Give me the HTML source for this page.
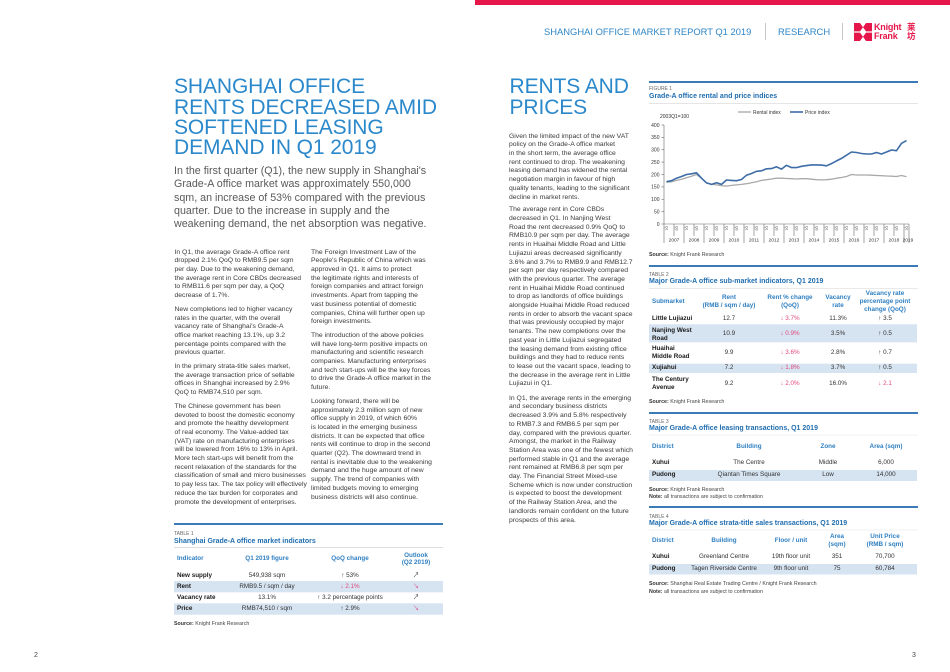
<!DOCTYPE html>
<html><head><meta charset="utf-8">
<style>
*{margin:0;padding:0;box-sizing:border-box}
body{width:950px;height:672px;position:relative;overflow:hidden;background:#fff;font-family:"Liberation Sans",Arial,"Noto Sans CJK SC",sans-serif;}
.a{position:absolute;white-space:nowrap}
.hd{position:absolute;white-space:nowrap;font-size:21px;line-height:20.3px;color:#2a88cb;letter-spacing:-0.1px}
.intro{position:absolute;white-space:nowrap;font-size:10.7px;line-height:13.33px;color:#5a5a5a}
.body{position:absolute;white-space:nowrap;font-size:6.8px;line-height:8.7px;color:#3a3a3a}
.body p{margin-bottom:5px}
.tc{position:absolute;white-space:nowrap;text-align:center;width:200px;margin-left:-100px;font-size:6.3px;line-height:7.7px;color:#333}
.tl{position:absolute;white-space:nowrap;font-size:6.3px;line-height:7.7px;font-weight:bold;color:#1a1a1a}
.th{color:#2f7fc1;font-weight:bold}
.red{color:#e2487c}
.cap{position:absolute;white-space:nowrap;font-size:5px;line-height:6px;color:#666}
.ttl{position:absolute;white-space:nowrap;font-size:7px;line-height:8px;font-weight:bold;color:#1f6db0}
.src{position:absolute;white-space:nowrap;font-size:5.3px;line-height:6px;color:#444}
.src b{color:#333}
</style></head><body>

<svg width="950" height="672" viewBox="0 0 950 672" style="position:absolute;left:0;top:0" xmlns="http://www.w3.org/2000/svg">
  <!-- top red bar -->
  <rect x="475" y="0" width="475" height="5" fill="#e5174a"/>
  <!-- header separators -->
  <line x1="765.5" y1="23" x2="765.5" y2="40" stroke="#c8c8c8" stroke-width="1"/>
  <line x1="842.5" y1="23" x2="842.5" y2="40" stroke="#c8c8c8" stroke-width="1"/>
  <!-- logo symbol -->
  <g fill="#e5174a" transform="translate(854,23)">
    <polygon points="0,0 6,0 9,4.2 6,8.4 0,8.4"/>
    <polygon points="18,0 12,0 9,4.2 12,8.4 18,8.4"/>
    <polygon points="0,9.6 6,9.6 9,13.8 6,18 0,18"/>
    <polygon points="18,9.6 12,9.6 9,13.8 12,18 18,18"/>
  </g>

  <!-- section top lines -->
  <rect x="174" y="523" width="269" height="2" fill="#3b7cb8"/>
  <rect x="649" y="81" width="269" height="2" fill="#3b7cb8"/>
  <rect x="649" y="265" width="269" height="2" fill="#3b7cb8"/>
  <rect x="649" y="412" width="269" height="2" fill="#3b7cb8"/>
  <rect x="649" y="506" width="269" height="2" fill="#3b7cb8"/>
  <!-- light rules under titles -->
  <line x1="649" y1="103.5" x2="918" y2="103.5" stroke="#dcdcdc" stroke-width="0.7"/>
  <line x1="174" y1="547.5" x2="443" y2="547.5" stroke="#d4d4d4" stroke-width="0.7"/>
  <line x1="649" y1="288.5" x2="918" y2="288.5" stroke="#e2e2e2" stroke-width="0.7"/>
  <line x1="649" y1="435" x2="918" y2="435" stroke="#e6e6e6" stroke-width="0.6"/>
  <line x1="649" y1="530" x2="918" y2="530" stroke="#e6e6e6" stroke-width="0.6"/>

  <!-- table bands -->
  <g fill="#d6e3f1">
    <rect x="174" y="581" width="269" height="11.3"/>
    <rect x="174" y="603.3" width="269" height="11.4"/>
    <rect x="649" y="324.3" width="268" height="18"/>
    <rect x="649" y="363.7" width="268" height="9.3"/>
    <rect x="649" y="470" width="268" height="11"/>
    <rect x="649" y="564" width="268" height="10.5"/>
  </g>

  <!-- chart axes -->
  <g stroke="#666" stroke-width="0.6" fill="none">
    <line x1="664" y1="125" x2="664" y2="224"/>
    <line x1="664" y1="224" x2="909" y2="224"/>
    <line x1="661.5" y1="125" x2="664" y2="125"/>
    <line x1="661.5" y1="137.4" x2="664" y2="137.4"/>
    <line x1="661.5" y1="149.75" x2="664" y2="149.75"/>
    <line x1="661.5" y1="162.1" x2="664" y2="162.1"/>
    <line x1="661.5" y1="174.5" x2="664" y2="174.5"/>
    <line x1="661.5" y1="186.9" x2="664" y2="186.9"/>
    <line x1="661.5" y1="199.25" x2="664" y2="199.25"/>
    <line x1="661.5" y1="211.6" x2="664" y2="211.6"/>
    <line x1="661.5" y1="224" x2="664" y2="224"/>
    <!-- year separators -->
    <line x1="664" y1="224" x2="664" y2="243"/>
    <line x1="684" y1="224" x2="684" y2="243"/>
    <line x1="704" y1="224" x2="704" y2="243"/>
    <line x1="724" y1="224" x2="724" y2="243"/>
    <line x1="744" y1="224" x2="744" y2="243"/>
    <line x1="764" y1="224" x2="764" y2="243"/>
    <line x1="784" y1="224" x2="784" y2="243"/>
    <line x1="804" y1="224" x2="804" y2="243"/>
    <line x1="824" y1="224" x2="824" y2="243"/>
    <line x1="844" y1="224" x2="844" y2="243"/>
    <line x1="864" y1="224" x2="864" y2="243"/>
    <line x1="884" y1="224" x2="884" y2="243"/>
    <line x1="904" y1="224" x2="904" y2="243"/>
    <line x1="909" y1="224" x2="909" y2="243"/>
    <!-- half-year ticks -->
    <line x1="674" y1="224" x2="674" y2="236"/>
    <line x1="694" y1="224" x2="694" y2="236"/>
    <line x1="714" y1="224" x2="714" y2="236"/>
    <line x1="734" y1="224" x2="734" y2="236"/>
    <line x1="754" y1="224" x2="754" y2="236"/>
    <line x1="774" y1="224" x2="774" y2="236"/>
    <line x1="794" y1="224" x2="794" y2="236"/>
    <line x1="814" y1="224" x2="814" y2="236"/>
    <line x1="834" y1="224" x2="834" y2="236"/>
    <line x1="854" y1="224" x2="854" y2="236"/>
    <line x1="874" y1="224" x2="874" y2="236"/>
    <line x1="894" y1="224" x2="894" y2="236"/>
  </g>

  <!-- y labels -->
  <g font-family="Liberation Sans, Arial, sans-serif" font-size="5" fill="#333" text-anchor="end">
    <text x="659.5" y="126.8">400</text>
    <text x="659.5" y="139.2">350</text>
    <text x="659.5" y="151.5">300</text>
    <text x="659.5" y="163.9">250</text>
    <text x="659.5" y="176.3">200</text>
    <text x="659.5" y="188.7">150</text>
    <text x="659.5" y="201">100</text>
    <text x="659.5" y="213.4">50</text>
    <text x="659.5" y="225.8">0</text>
  </g>
  <text x="660" y="117.8" font-family="Liberation Sans, Arial, sans-serif" font-size="5" fill="#333">2003Q1=100</text>

  <!-- quarter labels (rotated) -->
  <g font-family="Liberation Sans, Arial, sans-serif" font-size="3.4" fill="#555">
    <text transform="translate(665.3,226) rotate(90)">Q1</text><text transform="translate(675.3,226) rotate(90)">Q3</text>
    <text transform="translate(685.3,226) rotate(90)">Q1</text><text transform="translate(695.3,226) rotate(90)">Q3</text>
    <text transform="translate(705.3,226) rotate(90)">Q1</text><text transform="translate(715.3,226) rotate(90)">Q3</text>
    <text transform="translate(725.3,226) rotate(90)">Q1</text><text transform="translate(735.3,226) rotate(90)">Q3</text>
    <text transform="translate(745.3,226) rotate(90)">Q1</text><text transform="translate(755.3,226) rotate(90)">Q3</text>
    <text transform="translate(765.3,226) rotate(90)">Q1</text><text transform="translate(775.3,226) rotate(90)">Q3</text>
    <text transform="translate(785.3,226) rotate(90)">Q1</text><text transform="translate(795.3,226) rotate(90)">Q3</text>
    <text transform="translate(805.3,226) rotate(90)">Q1</text><text transform="translate(815.3,226) rotate(90)">Q3</text>
    <text transform="translate(825.3,226) rotate(90)">Q1</text><text transform="translate(835.3,226) rotate(90)">Q3</text>
    <text transform="translate(845.3,226) rotate(90)">Q1</text><text transform="translate(855.3,226) rotate(90)">Q3</text>
    <text transform="translate(865.3,226) rotate(90)">Q1</text><text transform="translate(875.3,226) rotate(90)">Q3</text>
    <text transform="translate(885.3,226) rotate(90)">Q1</text><text transform="translate(895.3,226) rotate(90)">Q3</text>
    <text transform="translate(905.3,226) rotate(90)">Q1</text>
  </g>
  <!-- year labels -->
  <g font-family="Liberation Sans, Arial, sans-serif" font-size="4.8" fill="#333" text-anchor="middle">
    <text x="674" y="241.7">2007</text>
    <text x="694" y="241.7">2008</text>
    <text x="714" y="241.7">2009</text>
    <text x="734" y="241.7">2010</text>
    <text x="754" y="241.7">2011</text>
    <text x="774" y="241.7">2012</text>
    <text x="794" y="241.7">2013</text>
    <text x="814" y="241.7">2014</text>
    <text x="834" y="241.7">2015</text>
    <text x="854" y="241.7">2016</text>
    <text x="874" y="241.7">2017</text>
    <text x="894" y="241.7">2018</text>
    <text x="908" y="241.7">2019</text>
  </g>

  <!-- legend -->
  <line x1="738" y1="112" x2="751" y2="112" stroke="#a9a9a9" stroke-width="1.3"/>
  <text x="753" y="113.8" font-family="Liberation Sans, Arial, sans-serif" font-size="5" fill="#333">Rental index</text>
  <line x1="790" y1="112" x2="803" y2="112" stroke="#3d6ca6" stroke-width="1.6"/>
  <text x="805" y="113.8" font-family="Liberation Sans, Arial, sans-serif" font-size="5" fill="#333">Price index</text>

  <!-- series -->
  <polyline fill="none" stroke="#a9a9a9" stroke-width="1.3" stroke-linejoin="round" points="666.5,182.4 671.5,181.7 676.5,180.4 681.5,179.2 686.5,177.7 691.5,176.2 696.5,174.5 701.5,178.2 706.5,182.7 711.5,184.4 716.5,184.9 721.5,185.6 726.5,186.1 731.5,185.4 736.5,184.9 741.5,184.4 746.5,183.7 751.5,182.7 756.5,181.7 761.5,180.4 766.5,179.7 771.5,179.0 776.5,178.2 781.5,178.2 786.5,178.5 791.5,178.7 796.5,179.0 801.5,178.7 806.5,178.7 811.5,179.2 816.5,179.7 821.5,179.9 826.5,179.7 831.5,179.2 836.5,178.2 841.5,177.5 846.5,176.5 851.5,174.5 856.5,175.0 861.5,175.0 866.5,175.0 871.5,175.2 876.5,175.5 881.5,175.7 886.5,176.0 891.5,176.2 896.5,176.5 901.5,175.5 906.5,176.7"/>
  <polyline fill="none" stroke="#3d6ca6" stroke-width="1.6" stroke-linejoin="round" points="666.5,181.7 671.5,180.7 676.5,178.2 681.5,176.5 686.5,174.5 691.5,173.8 696.5,172.8 701.5,178.2 706.5,182.9 711.5,184.4 716.5,182.7 721.5,184.4 726.5,180.0 731.5,180.4 736.5,180.7 741.5,179.5 746.5,175.2 751.5,173.5 756.5,171.3 761.5,170.8 766.5,168.8 771.5,168.6 776.5,166.8 781.5,169.1 786.5,165.3 791.5,167.6 796.5,167.6 801.5,166.3 806.5,165.6 811.5,164.9 816.5,164.9 821.5,165.1 826.5,165.8 831.5,163.6 836.5,160.9 841.5,158.4 846.5,155.2 851.5,152.0 856.5,152.5 861.5,153.5 866.5,154.0 871.5,154.0 876.5,152.5 881.5,154.0 886.5,152.0 891.5,150.0 896.5,150.7 901.5,143.3 906.5,140.6"/>
</svg>

<!-- Header -->
<div class="a" style="left:544px;top:26px;font-size:9.4px;line-height:12px;color:#2f86c6">SHANGHAI OFFICE MARKET REPORT Q1 2019</div>
<div class="a" style="left:778px;top:26px;font-size:9.4px;line-height:12px;color:#2f86c6">RESEARCH</div>
<div class="a" style="left:874px;top:22.5px;font-size:9px;line-height:9px;font-weight:bold;color:#e5174a;letter-spacing:-0.2px">Knight<br>Frank</div>
<div class="a" style="left:907px;top:22.5px;font-size:8.5px;line-height:9px;font-weight:bold;color:#e5174a;font-family:'Noto Sans CJK SC','WenQuanYi Zen Hei',sans-serif">莱<br>坊</div>

<!-- Left page heading -->
<div class="hd" style="left:174px;top:77.4px">SHANGHAI OFFICE<br>RENTS DECREASED AMID<br>SOFTENED LEASING<br>DEMAND IN Q1 2019</div>
<div class="intro" style="left:174px;top:165px">In the first quarter (Q1), the new supply in Shanghai's<br>Grade-A office market was approximately 550,000<br>sqm, an increase of 53% compared with the previous<br>quarter. Due to the increase in supply and the<br>weakening demand, the net absorption was negative.</div>

<!-- Left col 1 -->
<div class="body" style="left:174.5px;top:248.6px">
<p>In Q1, the average Grade-A office rent<br>dropped 2.1% QoQ to RMB9.5 per sqm<br>per day. Due to the weakening demand,<br>the average rent in Core CBDs decreased<br>to RMB11.6 per sqm per day, a QoQ<br>decrease of 1.7%.</p>
<p>New completions led to higher vacancy<br>rates in the quarter, with the overall<br>vacancy rate of Shanghai's Grade-A<br>office market reaching 13.1%, up 3.2<br>percentage points compared with the<br>previous quarter.</p>
<p>In the primary strata-title sales market,<br>the average transaction price of sellable<br>offices in Shanghai increased by 2.9%<br>QoQ to RMB74,510 per sqm.</p>
<p>The Chinese government has been<br>devoted to boost the domestic economy<br>and promote the healthy development<br>of real economy. The Value-added tax<br>(VAT) rate on manufacturing enterprises<br>will be lowered from 16% to 13% in April.<br>More tech start-ups will benefit from the<br>recent relaxation of the standards for the<br>classification of small and micro businesses<br>to pay less tax. The tax policy will effectively<br>reduce the tax burden for corporates and<br>promote the development of enterprises.</p>
</div>

<!-- Left col 2 -->
<div class="body" style="left:311px;top:248.6px">
<p>The Foreign Investment Law of the<br>People's Republic of China which was<br>approved in Q1. It aims to protect<br>the legitimate rights and interests of<br>foreign companies and attract foreign<br>investments. Apart from tapping the<br>vast business potential of domestic<br>companies, China will further open up<br>foreign investments.</p>
<p>The introduction of the above policies<br>will have long-term positive impacts on<br>manufacturing and scientific research<br>companies. Manufacturing enterprises<br>and tech start-ups will be the key forces<br>to drive the Grade-A office market in the<br>future.</p>
<p>Looking forward, there will be<br>approximately 2.3 million sqm of new<br>office supply in 2019, of which 60%<br>is located in the emerging business<br>districts. It can be expected that office<br>rents will continue to drop in the second<br>quarter (Q2). The downward trend in<br>rental is inevitable due to the weakening<br>demand and the huge amount of new<br>supply. The trend of companies with<br>limited budgets moving to emerging<br>business districts will also continue.</p>
</div>

<!-- Table 1 -->
<div class="cap" style="left:174px;top:531px">TABLE 1</div>
<div class="ttl" style="left:174px;top:538px">Shanghai Grade-A office market indicators</div>
<div class="tl th" style="left:177px;top:555.15px">Indicator</div>
<div class="tc th" style="left:267px;top:555.15px">Q1 2019 figure</div>
<div class="tc th" style="left:350px;top:555.15px">QoQ change</div>
<div class="tc th" style="left:416px;top:551.5px">Outlook<br>(Q2 2019)</div>

<div class="tl" style="left:177px;top:572.15px">New supply</div>
<div class="tc" style="left:267px;top:572.15px">549,938 sqm</div>
<div class="tc" style="left:350px;top:572.15px">↑ 53%</div>
<div class="tc" style="left:416px;top:572.15px">↗</div>

<div class="tl" style="left:177px;top:583.15px">Rent</div>
<div class="tc" style="left:267px;top:583.15px">RMB9.5 / sqm / day</div>
<div class="tc red" style="left:350px;top:583.15px">↓ 2.1%</div>
<div class="tc red" style="left:416px;top:583.15px">↘</div>

<div class="tl" style="left:177px;top:594.15px">Vacancy rate</div>
<div class="tc" style="left:267px;top:594.15px">13.1%</div>
<div class="tc" style="left:350px;top:594.15px">↑ 3.2 percentage points</div>
<div class="tc" style="left:416px;top:594.15px">↗</div>

<div class="tl" style="left:177px;top:605.15px">Price</div>
<div class="tc" style="left:267px;top:605.15px">RMB74,510 / sqm</div>
<div class="tc" style="left:350px;top:605.15px">↑ 2.9%</div>
<div class="tc red" style="left:416px;top:605.15px">↘</div>

<div class="src" style="left:174px;top:621px"><b>Source:</b> Knight Frank Research</div>

<div class="a" style="left:34px;top:652px;font-size:7px;line-height:8px;color:#444">2</div>
<div class="a" style="left:912px;top:652px;font-size:7px;line-height:8px;color:#444">3</div>

<!-- Middle column -->
<div class="hd" style="left:509.5px;top:77.4px">RENTS AND<br>PRICES</div>
<div class="body" style="left:509px;top:132.6px">Given the limited impact of the new VAT<br>policy on the Grade-A office market<br>in the short term, the average office<br>rent continued to drop. The weakening<br>leasing demand has widened the rental<br>negotiation margin in favour of high<br>quality tenants, leading to the significant<br>decline in market rents.</div>
<div class="body" style="left:509px;top:206.3px">The average rent in Core CBDs<br>decreased in Q1. In Nanjing West<br>Road the rent decreased 0.9% QoQ to<br>RMB10.9 per sqm per day. The average<br>rents in Huaihai Middle Road and Little<br>Lujiazui areas decreased significantly<br>3.6% and 3.7% to RMB9.9 and RMB12.7<br>per sqm per day respectively compared<br>with the previous quarter. The average<br>rent in Huaihai Middle Road continued<br>to drop as landlords of office buildings<br>alongside Huaihai Middle Road reduced<br>rents in order to absorb the vacant space<br>that was previously occupied by major<br>tenants. The new completions over the<br>past year in Little Lujiazui segregated<br>the leasing demand from existing office<br>buildings and they had to reduce rents<br>to lease out the vacant space, leading to<br>the decrease in the average rent in Little<br>Lujiazui in Q1.</div>
<div class="body" style="left:509px;top:394.7px">In Q1, the average rents in the emerging<br>and secondary business districts<br>decreased 3.9% and 5.8% respectively<br>to RMB7.3 and RMB6.5 per sqm per<br>day, compared with the previous quarter.<br>Amongst, the market in the Railway<br>Station Area was one of the fewest which<br>performed stable in Q1 and the average<br>rent remained at RMB6.8 per sqm per<br>day. The Financial Street Mixed-use<br>Scheme which is now under construction<br>is expected to boost the development<br>of the Railway Station Area, and the<br>landlords remain confident on the future<br>prospects of this area.</div>

<!-- Figure 1 -->
<div class="cap" style="left:649px;top:86px">FIGURE 1</div>
<div class="ttl" style="left:649px;top:93px">Grade-A office rental and price indices</div>
<div class="src" style="left:649px;top:252px"><b>Source:</b> Knight Frank Research</div>

<!-- Table 2 -->
<div class="cap" style="left:649px;top:272px">TABLE 2</div>
<div class="ttl" style="left:649px;top:278px">Major Grade-A office sub-market indicators, Q1 2019</div>
<div class="tl th" style="left:652px;top:298.15px">Submarket</div>
<div class="tc th" style="left:729px;top:294.3px">Rent<br>(RMB / sqm / day)</div>
<div class="tc th" style="left:790px;top:294.3px">Rent % change<br>(QoQ)</div>
<div class="tc th" style="left:838px;top:294.3px">Vacancy<br>rate</div>
<div class="tc th" style="left:885px;top:290.45px">Vacancy rate<br>percentage point<br>change (QoQ)</div>

<div class="tl" style="left:652px;top:315.15px">Little Lujiazui</div>
<div class="tc" style="left:729px;top:315.15px">12.7</div>
<div class="tc red" style="left:790px;top:315.15px">↓ 3.7%</div>
<div class="tc" style="left:838px;top:315.15px">11.3%</div>
<div class="tc" style="left:885px;top:315.15px">↑ 3.5</div>

<div class="tl" style="left:652px;top:326.8px">Nanjing West<br>Road</div>
<div class="tc" style="left:729px;top:330.15px">10.9</div>
<div class="tc red" style="left:790px;top:330.15px">↓ 0.9%</div>
<div class="tc" style="left:838px;top:330.15px">3.5%</div>
<div class="tc" style="left:885px;top:330.15px">↑ 0.5</div>

<div class="tl" style="left:652px;top:345.3px">Huaihai<br>Middle Road</div>
<div class="tc" style="left:729px;top:349.15px">9.9</div>
<div class="tc red" style="left:790px;top:349.15px">↓ 3.6%</div>
<div class="tc" style="left:838px;top:349.15px">2.8%</div>
<div class="tc" style="left:885px;top:349.15px">↑ 0.7</div>

<div class="tl" style="left:652px;top:364.15px">Xujiahui</div>
<div class="tc" style="left:729px;top:364.15px">7.2</div>
<div class="tc red" style="left:790px;top:364.15px">↓ 1.8%</div>
<div class="tc" style="left:838px;top:364.15px">3.7%</div>
<div class="tc" style="left:885px;top:364.15px">↑ 0.5</div>

<div class="tl" style="left:652px;top:376.3px">The Century<br>Avenue</div>
<div class="tc" style="left:729px;top:380.15px">9.2</div>
<div class="tc red" style="left:790px;top:380.15px">↓ 2.0%</div>
<div class="tc" style="left:838px;top:380.15px">16.0%</div>
<div class="tc red" style="left:885px;top:380.15px">↓ 2.1</div>

<div class="src" style="left:649px;top:399px"><b>Source:</b> Knight Frank Research</div>

<!-- Table 3 -->
<div class="cap" style="left:649px;top:419px">TABLE 3</div>
<div class="ttl" style="left:649px;top:425px">Major Grade-A office leasing transactions, Q1 2019</div>
<div class="tl th" style="left:652px;top:443.15px">District</div>
<div class="tc th" style="left:749px;top:443.15px">Building</div>
<div class="tc th" style="left:828px;top:443.15px">Zone</div>
<div class="tc th" style="left:886px;top:443.15px">Area (sqm)</div>

<div class="tl" style="left:652px;top:459.15px">Xuhui</div>
<div class="tc" style="left:749px;top:459.15px">The Centre</div>
<div class="tc" style="left:828px;top:459.15px">Middle</div>
<div class="tc" style="left:886px;top:459.15px">6,000</div>

<div class="tl" style="left:652px;top:471.15px">Pudong</div>
<div class="tc" style="left:749px;top:471.15px">Qiantan Times Square</div>
<div class="tc" style="left:828px;top:471.15px">Low</div>
<div class="tc" style="left:886px;top:471.15px">14,000</div>

<div class="src" style="left:649px;top:487px"><b>Source:</b> Knight Frank Research</div>
<div class="src" style="left:649px;top:494px"><b>Note:</b> all transactions are subject to confirmation</div>

<!-- Table 4 -->
<div class="cap" style="left:649px;top:514px">TABLE 4</div>
<div class="ttl" style="left:649px;top:520px">Major Grade-A office strata-title sales transactions, Q1 2019</div>
<div class="tl th" style="left:652px;top:537.15px">District</div>
<div class="tc th" style="left:724px;top:537.15px">Building</div>
<div class="tc th" style="left:791px;top:537.15px">Floor / unit</div>
<div class="tc th" style="left:837px;top:533.3px">Area<br>(sqm)</div>
<div class="tc th" style="left:885px;top:533.3px">Unit Price<br>(RMB / sqm)</div>

<div class="tl" style="left:652px;top:553.15px">Xuhui</div>
<div class="tc" style="left:724px;top:553.15px">Greenland Centre</div>
<div class="tc" style="left:791px;top:553.15px">19th floor unit</div>
<div class="tc" style="left:837px;top:553.15px">351</div>
<div class="tc" style="left:885px;top:553.15px">70,700</div>

<div class="tl" style="left:652px;top:565.15px">Pudong</div>
<div class="tc" style="left:724px;top:565.15px">Tagen Riverside Centre</div>
<div class="tc" style="left:791px;top:565.15px">9th floor unit</div>
<div class="tc" style="left:837px;top:565.15px">75</div>
<div class="tc" style="left:885px;top:565.15px">60,784</div>

<div class="src" style="left:649px;top:581px"><b>Source:</b> Shanghai Real Estate Trading Centre / Knight Frank Research</div>
<div class="src" style="left:649px;top:589px"><b>Note:</b> all transactions are subject to confirmation</div>

</body></html>
